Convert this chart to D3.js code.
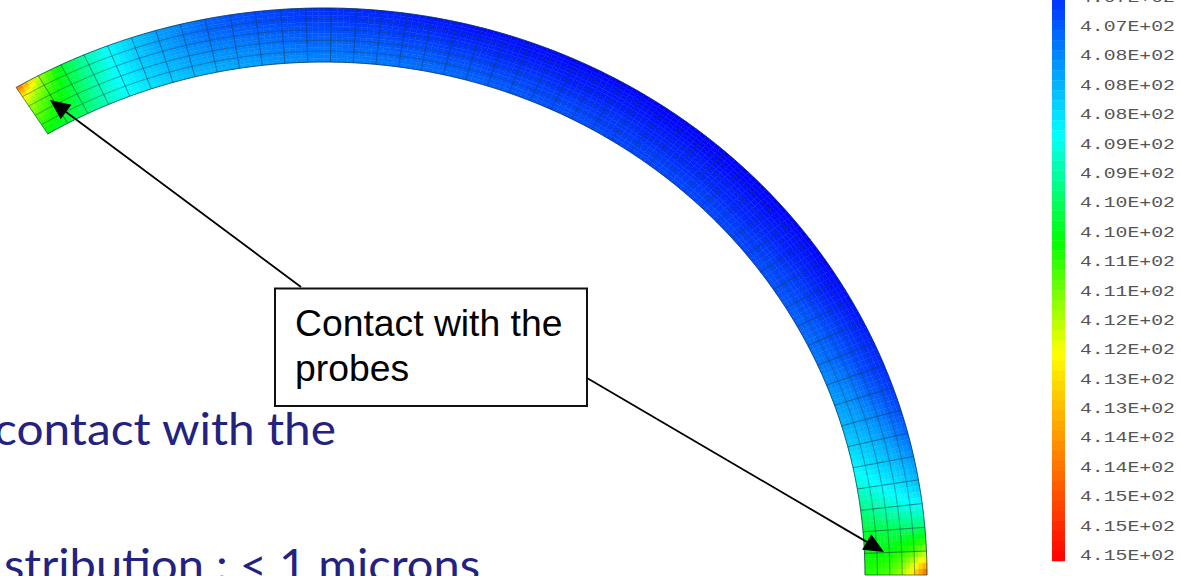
<!DOCTYPE html>
<html><head><meta charset="utf-8">
<script src="https://cdnjs.cloudflare.com/ajax/libs/d3/7.8.5/d3.min.js"></script>
<style>html,body{margin:0;padding:0;background:#fff;overflow:hidden}svg{display:block}</style>
</head><body><svg id="c" width="1181" height="576"></svg>
<script>
// Nodal values along the ring, station 0 = upper-left end, station 50 = lower-right end
const ring0 = [410.2,410.0,409.6,409.1,408.7,408.4,408.2,408.0,407.9,407.8,
  407.7,407.6,407.5,407.4,407.4,407.3,407.3,407.2,407.2,407.1,
  407.1,407.0,407.0,406.9,406.9,406.9,406.8,406.8,406.8,406.8,
  406.8,406.8,406.8,406.8,406.8,406.9,406.9,407.0,407.1,407.2,
  407.3,407.5,407.7,407.9,408.2,408.6,409.0,409.5,410.0,410.3,410.5];
const ring1 = [410.6,410.2,409.7,409.1,408.6,408.3,408.0,407.8,407.7,407.6,
  407.5,407.4,407.3,407.3,407.2,407.2,407.1,407.1,407.0,407.0,
  406.9,406.9,406.8,406.8,406.8,406.7,406.7,406.7,406.7,406.7,
  406.7,406.7,406.7,406.7,406.7,406.8,406.8,406.9,407.0,407.1,
  407.2,407.4,407.6,407.8,408.1,408.4,408.8,409.3,409.9,410.3,410.6];
const ring2 = [411.0,410.4,409.8,409.1,408.6,408.2,407.9,407.7,407.5,407.4,
  407.3,407.2,407.1,407.1,407.0,407.0,406.9,406.9,406.8,406.8,
  406.7,406.7,406.7,406.6,406.6,406.6,406.6,406.5,406.5,406.5,
  406.5,406.5,406.5,406.5,406.6,406.6,406.7,406.7,406.8,406.9,
  407.0,407.2,407.4,407.6,407.9,408.2,408.6,409.1,409.8,410.3,410.9];
const ring3 = [411.4,410.6,409.9,409.2,408.6,408.1,407.8,407.5,407.3,407.2,
  407.1,407.0,406.9,406.9,406.8,406.8,406.7,406.7,406.6,406.6,
  406.5,406.5,406.5,406.4,406.4,406.4,406.4,406.4,406.4,406.4,
  406.4,406.4,406.4,406.4,406.4,406.4,406.5,406.5,406.6,406.7,
  406.8,406.9,407.1,407.4,407.7,408.0,408.4,408.9,409.7,410.5,411.4];
const ring4 = [412.2,411.0,410.0,409.2,408.6,408.1,407.7,407.4,407.1,407.0,
  406.9,406.8,406.7,406.7,406.6,406.6,406.5,406.5,406.4,406.4,
  406.4,406.3,406.3,406.3,406.3,406.3,406.3,406.2,406.2,406.2,
  406.2,406.2,406.2,406.2,406.3,406.3,406.3,406.3,406.4,406.5,
  406.6,406.7,406.9,407.1,407.4,407.8,408.2,408.7,409.6,410.8,412.6];
const ring5 = [414.2,411.4,410.0,409.2,408.6,408.1,407.7,407.4,407.1,406.9,
  406.8,406.7,406.6,406.5,406.5,406.4,406.4,406.3,406.3,406.2,
  406.2,406.2,406.2,406.1,406.1,406.1,406.1,406.1,406.1,406.1,
  406.1,406.1,406.1,406.1,406.1,406.1,406.1,406.2,406.2,406.3,
  406.4,406.5,406.6,406.8,407.1,407.5,407.9,408.6,409.6,411.3,414.2];
const rings = [ring0, ring1, ring2, ring3, ring4, ring5];

const legendLabels = ["4.07E+02","4.07E+02","4.08E+02","4.08E+02","4.08E+02","4.09E+02","4.09E+02","4.10E+02","4.10E+02","4.11E+02","4.11E+02","4.12E+02","4.12E+02","4.13E+02","4.13E+02","4.14E+02","4.14E+02","4.15E+02","4.15E+02","4.15E+02"];
const legendRange = [406.6, 415.2];
const colorStops = [406.1, 408.65, 410.3, 412.0, 415.2];
const colorNames = ["#0000ff","#00ffff","#00ff00","#ffff00","#ff0000"];
const calloutLines = ["Contact with the","probes"];
const bodyLines = ["contact with the","stribution : < 1 microns"];

const svg = d3.select("#c");
const color = d3.scaleLinear().domain(colorStops).range(colorNames).clamp(true);

// ring geometry scales
const stationAngle = d3.scaleLinear().domain([0,50]).range([120.7,0]);
const ringRx = d3.scaleLinear().domain([0,5]).range([541,603]);
const ringRy = d3.scaleLinear().domain([0,5]).range([513,567]);
const cx = 324, cy = 575;
const pos = (s,r)=>{const a=stationAngle(s)*Math.PI/180;return [cx+ringRx(r)*Math.cos(a),cy-ringRy(r)*Math.sin(a)];};
const val = (s,r)=>{
  const s0=Math.min(Math.floor(s),49), r0=Math.min(Math.floor(r),4), fs=s-s0, fr=r-r0;
  return (rings[r0][s0]*(1-fs)+rings[r0][s0+1]*fs)*(1-fr)+(rings[r0+1][s0]*(1-fs)+rings[r0+1][s0+1]*fs)*fr;
};

// shaded field: each mesh cell is shaded with sub-patches
const NS=4, NR=3;
const gField = svg.append("g");
const patches=[];
d3.range(50).forEach(s=>d3.range(5).forEach(r=>{
  d3.range(NS).forEach(i=>d3.range(NR).forEach(j=>{
    patches.push({s:s+i/NS,r:r+j/NR});
  }));
}));
const line = d3.line();
gField.selectAll("path").data(patches).join("path")
  .attr("d",p=>{
    const ds=1/NS,dr=1/NR;
    return line([pos(p.s,p.r),pos(p.s+ds,p.r),pos(p.s+ds,p.r+dr),pos(p.s,p.r+dr)])+"Z";
  })
  .attr("fill",p=>color(val(p.s+0.5/NS,p.r+0.5/NR)))
  .attr("stroke",p=>color(val(p.s+0.5/NS,p.r+0.5/NR)))
  .attr("stroke-width",0.4);

// mesh
const gMesh = svg.append("g").attr("fill","none").attr("stroke","#062f44");
const fine = d3.range(0,50.01,0.5);
gMesh.selectAll("path.ring").data(d3.range(6)).join("path").attr("class","ring")
  .attr("d",r=>line(fine.map(s=>pos(s,r))))
  .attr("stroke-opacity",r=>(r===0||r===5)?0.7:0.42).attr("stroke-width",1);
gMesh.selectAll("path.st").data(d3.range(51)).join("path").attr("class","st")
  .attr("d",s=>line(d3.range(0,5.01,1).map(r=>pos(s,r))))
  .attr("stroke-opacity",0.55).attr("stroke-width",1);

// legend
const legendY = d3.scaleLinear().domain(legendRange).range([0,561]);
const bandVals = d3.range(legendRange[0],legendRange[1],(legendRange[1]-legendRange[0])/56);
const bandH = 561/56;
svg.append("g").selectAll("rect").data(bandVals).join("rect")
  .attr("x",1052).attr("width",13)
  .attr("y",v=>legendY(v)).attr("height",bandH+0.3)
  .attr("fill",v=>color(v+0.07));
const labelY = d3.scaleLinear().domain([1,19]).range([26,555]);
svg.append("g").selectAll("text").data(legendLabels).join("text")
  .attr("x",1080).attr("y",(d,i)=>labelY(i)+5)
  .attr("textLength",95).attr("lengthAdjust","spacingAndGlyphs")
  .attr("font-family","'Liberation Mono',monospace").attr("font-size",15)
  .attr("fill","#555").text(d=>d);

// body text
svg.append("g").selectAll("text").data(bodyLines).join("text")
  .attr("x",(d,i)=>[-6,4][i]).attr("y",(d,i)=>[445,581][i])
  .attr("textLength",(d,i)=>[342,476][i]).attr("lengthAdjust","spacingAndGlyphs")
  .attr("font-family","Lato,'Open Sans',sans-serif").attr("font-size",44)
  .attr("fill","#23237f").text(d=>d);

// arrows
const arrowData = [
  {from:[301,287],to:[50,100]},
  {from:[587,378],to:[884,552]}
];
const gArrow = svg.append("g");
arrowData.forEach(a=>{
  const ang=Math.atan2(a.to[1]-a.from[1],a.to[0]-a.from[0]);
  const L=20,W=9;
  const bx=a.to[0]-L*Math.cos(ang),by=a.to[1]-L*Math.sin(ang);
  gArrow.append("line").attr("x1",a.from[0]).attr("y1",a.from[1]).attr("x2",bx).attr("y2",by)
    .attr("stroke","#000").attr("stroke-width",1.8);
  gArrow.append("path").attr("fill","#000").attr("d",line([a.to,
    [bx-W*Math.sin(ang),by+W*Math.cos(ang)],[bx+W*Math.sin(ang),by-W*Math.cos(ang)]])+"Z");
});

// callout
svg.append("rect").attr("x",275).attr("y",288.5).attr("width",312).attr("height",117.5)
  .attr("fill","#fff").attr("stroke","#111").attr("stroke-width",2);
svg.append("g").selectAll("text").data(calloutLines).join("text")
  .attr("x",295).attr("y",(d,i)=>336+i*45)
  .attr("font-family","'Liberation Sans',Arial,sans-serif").attr("font-size",37.3)
  .attr("fill","#000").text(d=>d);
</script></body></html>
